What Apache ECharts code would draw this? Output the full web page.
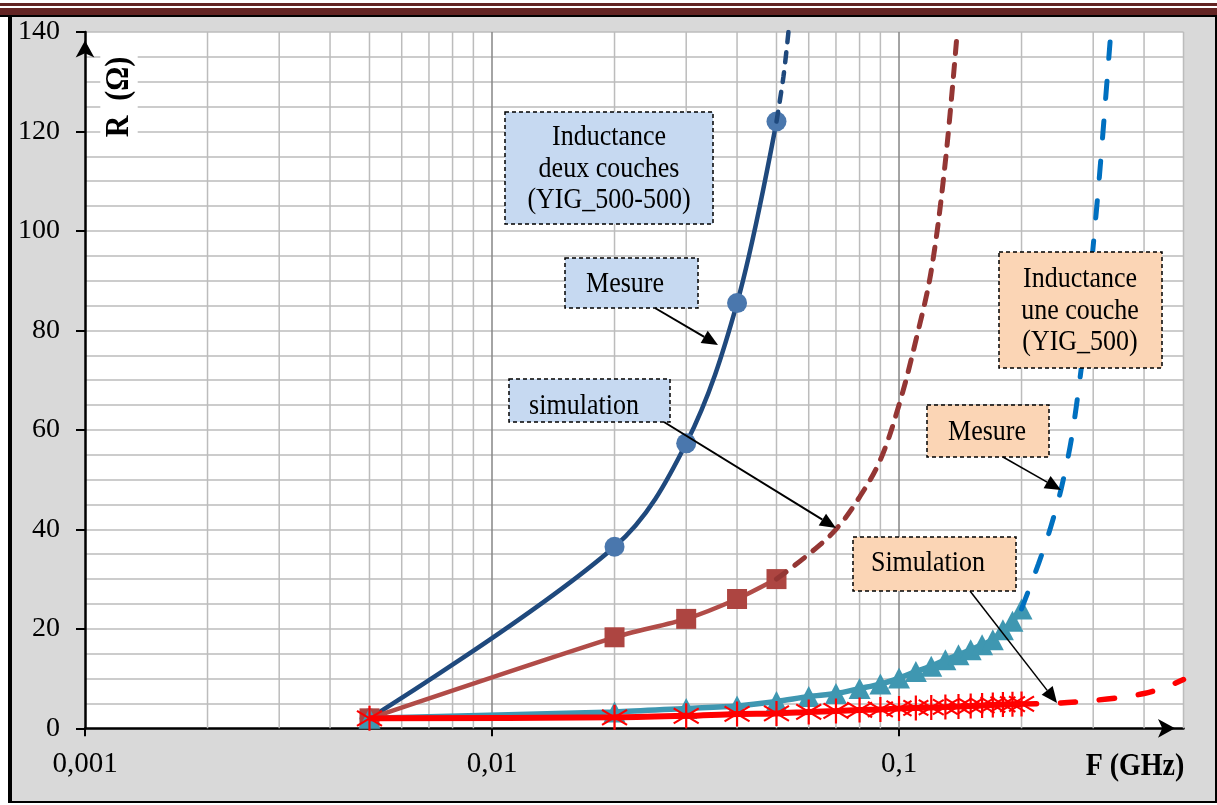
<!DOCTYPE html>
<html><head><meta charset="utf-8">
<script src="https://cdn.jsdelivr.net/npm/echarts@6/dist/echarts.min.js"></script>
<style>html,body{margin:0;padding:0;background:#fff}#c{width:1217px;height:805px}</style>
</head><body><div id="c"></div>
<script>
// ---------------- data ----------------
// Inductance deux couches (YIG_500-500)
const fDeux = [0.005, 0.02, 0.03, 0.04, 0.05];
const rMesureDeux = [2.0, 36.5, 57.3, 85.5, 122];
const fMesureDeuxExt = [0.05, 0.052, 0.0535];
const rMesureDeuxExt = [122, 131, 140];
const rSimDeux = [2.0, 18.3, 22.0, 26.0, 30.0];
const fSimDeuxExt = [0.05, 0.06, 0.07, 0.08, 0.09, 0.1, 0.11, 0.12, 0.13, 0.139];
const rSimDeuxExt = [30, 35, 40, 46.5, 54, 65, 78, 92, 114, 140];
// Inductance une couche (YIG_500)
const fUne = [0.005, 0.02, 0.03, 0.04, 0.05, 0.06, 0.07, 0.08, 0.09, 0.1, 0.11, 0.12, 0.13, 0.14, 0.15, 0.16, 0.17, 0.18, 0.19, 0.2];
const rMesureUne = [2.0, 3.3, 4.0, 4.5, 5.4, 6.4, 7.0, 8.0, 8.9, 10.1, 11.4, 12.5, 13.8, 14.8, 15.8, 16.8, 17.8, 19.8, 21.5, 24.0];
const fMesureUneExt = [0.2, 0.22, 0.235, 0.25, 0.265, 0.28, 0.29, 0.3, 0.31, 0.32, 0.33];
const rMesureUneExt = [24, 33, 40, 48, 58, 72, 84, 97, 110, 124, 138];
const rSimUne = [2.0, 2.2, 2.5, 2.9, 3.0, 3.3, 3.5, 3.7, 3.8, 4.0, 4.1, 4.2, 4.3, 4.4, 4.5, 4.6, 4.7, 4.8, 4.85, 4.9];
const fSimUneExt = [0.2, 0.25, 0.3, 0.35, 0.4, 0.45, 0.5];
const rSimUneExt = [4.9, 5.1, 5.6, 6.2, 7.0, 8.2, 9.8];
// axes
const xTickValues = [0.001, 0.01, 0.1];
const xTickLabels = ['0,001', '0,01', '0,1'];
const yTickLabels = ['0', '20', '40', '60', '80', '100', '120', '140'];
const xGridValues = [0.002,0.003,0.004,0.005,0.006,0.007,0.008,0.009,0.01,
  0.02,0.03,0.04,0.05,0.06,0.07,0.08,0.09,0.1,0.2,0.3,0.4,0.5];

// ---------------- helpers ----------------
const FONT = '"Liberation Serif","Times New Roman",serif';
const zip = (a, b) => a.map((v, i) => [v, b[i]]);
const ASTER = 'path://M10,0 L10,20 M1.5,4 L18.5,16 M1.5,16 L18.5,4';

function arrow(x1, y1, x2, y2, w, hl, hw) {
  const a = Math.atan2(y2 - y1, x2 - x1);
  const bx = x2 - hl * Math.cos(a), by = y2 - hl * Math.sin(a);
  const px = -Math.sin(a) * hw, py = Math.cos(a) * hw;
  return [
    {type: 'line', z: 100, silent: true, shape: {x1: x1, y1: y1, x2: bx, y2: by}, style: {stroke: '#000', lineWidth: w}},
    {type: 'polygon', z: 100, silent: true, shape: {points: [[x2, y2], [bx + px, by + py], [bx - px, by - py]]}, style: {fill: '#000'}}
  ];
}
function box(x, y, w, h, fill, text, tx, ty) {
  return [
    {type: 'rect', z: 100, silent: true, shape: {x: x, y: y, width: w, height: h},
      style: {fill: fill, stroke: '#000', lineWidth: 1.5, lineDash: [4, 3]}},
    {type: 'text', z: 101, silent: true, x: tx, y: ty, scaleY: 1.12,
      style: {text: text, fontFamily: FONT, fontSize: 26, fill: '#000', align: 'center', verticalAlign: 'middle', lineHeight: 28}}
  ];
}
const BLUE_BOX = '#c6d9f1', ORANGE_BOX = '#fbd5b5';

const graphics = [].concat(
  // page frame
  [
    {type: 'rect', z: 50, silent: true, shape: {x: 0, y: 0, width: 1217, height: 17}, style: {fill: '#fff'}},
    {type: 'rect', z: 50, silent: true, shape: {x: 0, y: 0, width: 8, height: 805}, style: {fill: '#fff'}},
    {type: 'rect', z: 50, silent: true, shape: {x: 0, y: 803, width: 1217, height: 2}, style: {fill: '#fff'}},
    {type: 'rect', z: 51, silent: true, shape: {x: 0, y: 3, width: 1217, height: 3}, style: {fill: '#632423'}},
    {type: 'rect', z: 51, silent: true, shape: {x: 0, y: 8, width: 1217, height: 7}, style: {fill: '#632423'}},
    {type: 'rect', z: 51, silent: true, shape: {x: 0, y: 15, width: 1217, height: 2}, style: {fill: '#000'}},
    {type: 'rect', z: 51, silent: true, shape: {x: 8, y: 15, width: 4, height: 788}, style: {fill: '#000'}},
    {type: 'rect', z: 51, silent: true, shape: {x: 8, y: 801, width: 1209, height: 2}, style: {fill: '#000'}},
    {type: 'rect', z: 51, silent: true, shape: {x: 1215, y: 15, width: 2, height: 788}, style: {fill: '#000'}},
    // axis names
    {type: 'text', z: 60, silent: true, x: 119, y: 97, rotation: Math.PI / 2, scaleY: 1.1,
      style: {text: 'R  (Ω)', fontFamily: FONT, fontSize: 30, fontWeight: 'bold', fill: '#000',
        align: 'center', verticalAlign: 'middle', backgroundColor: '#fff', padding: [2, 6]}},
    {type: 'text', z: 60, silent: true, x: 1135, y: 767, scaleY: 1.12,
      style: {text: 'F (GHz)', fontFamily: FONT, fontSize: 28, fontWeight: 'bold', fill: '#000',
        align: 'center', verticalAlign: 'middle'}}
  ],
  box(505, 112, 208, 112, BLUE_BOX, 'Inductance\ndeux couches\n(YIG_500-500)', 609, 169),
  box(565, 258, 133, 50, BLUE_BOX, 'Mesure', 625, 284),
  box(509, 379, 161, 43, BLUE_BOX, 'simulation', 584, 406),
  box(999, 252, 163, 116, ORANGE_BOX, 'Inductance\nune couche\n(YIG_500)', 1080, 311),
  box(927, 405, 122, 52, ORANGE_BOX, 'Mesure', 987, 432),
  box(853, 537, 163, 54, ORANGE_BOX, 'Simulation', 928, 563),
  arrow(655, 308, 718, 345, 2, 16, 7),
  arrow(664, 422, 836, 528, 2, 16, 7),
  arrow(1003, 457, 1061, 490, 1.5, 16, 7),
  arrow(970, 591, 1057, 703, 1.5, 16, 7)
);

const chart = echarts.init(document.getElementById('c'), null, {renderer: 'canvas'});
chart.setOption({
  animation: false,
  backgroundColor: '#d9d9d9',
  grid: {left: 85, right: 33.5, top: 32, bottom: 76.7, show: true, backgroundColor: '#fff', borderWidth: 0,
    containLabel: false, outerBoundsMode: 'none'},
  xAxis: {
    type: 'log', logBase: 10, min: 0.001, max: 0.5,
    axisLine: {show: true, onZero: false, lineStyle: {color: '#000', width: 2.5},
      symbol: ['none', 'arrow'], symbolSize: [14, 17], symbolOffset: [0, -8.5]},
    axisTick: {show: true, customValues: xTickValues, length: 8, lineStyle: {color: '#000', width: 2}},
    axisLabel: {show: true, customValues: xTickValues, margin: 22, color: '#000', fontFamily: FONT, fontSize: 29,
      formatter: function (v) {
        let best = 0;
        xTickValues.forEach((t, i) => { if (Math.abs(Math.log10(t) - Math.log10(v)) < Math.abs(Math.log10(xTickValues[best]) - Math.log10(v))) best = i; });
        return xTickLabels[best];
      }},
    splitLine: {show: false}
  },
  yAxis: {
    type: 'value', min: 0, max: 140, interval: 20,
    axisLine: {show: true, lineStyle: {color: '#000', width: 2.5},
      symbol: ['none', 'arrow'], symbolSize: [14, 17], symbolOffset: [0, -8.5]},
    axisTick: {show: true, length: 9, lineStyle: {color: '#000', width: 2}},
    axisLabel: {margin: 25, color: '#000', fontFamily: FONT, fontSize: 28,
      formatter: v => yTickLabels[Math.round(v / 20)]},
    splitLine: {show: true, lineStyle: {color: '#bcbcbc', width: 1.5}},
    minorTick: {show: false, splitNumber: 4},
    minorSplitLine: {show: true, lineStyle: {color: '#bcbcbc', width: 1.5}}
  },
  graphic: {elements: graphics},
  series: [
    {
      type: 'custom', z: 1, silent: true, clip: false,
      data: xGridValues.map(v => [v, 0]),
      renderItem: function (params, api) {
        const v = api.value(0);
        const b = api.coord([v, 0]);
        const t = api.coord([v, 140]);
        const major = Math.abs(Math.log10(v) - Math.round(Math.log10(v))) < 1e-9;
        return {type: 'line', shape: {x1: b[0], y1: b[1], x2: t[0], y2: t[1]},
          style: {stroke: major ? '#868686' : '#bcbcbc', lineWidth: 1.5}};
      }
    },
    {
      name: 'Mesure deux couches', type: 'line', z: 3, data: zip(fDeux, rMesureDeux), smooth: 0.35,
      symbol: 'circle', symbolSize: 20,
      lineStyle: {color: '#1f497d', width: 4.5}, itemStyle: {color: '#4a77ad'}
    },
    {
      name: 'Simulation deux couches', type: 'line', z: 3, data: zip(fDeux, rSimDeux), smooth: 0.25,
      symbol: 'rect', symbolSize: 20,
      lineStyle: {color: '#b14c48', width: 4.5}, itemStyle: {color: '#ad4541'}
    },
    {
      name: 'Mesure deux couches (ext)', type: 'line', z: 4, data: zip(fMesureDeuxExt, rMesureDeuxExt), smooth: 0.3,
      symbol: 'none', lineStyle: {color: '#1f497d', width: 4.5, type: [10, 10], cap: 'round'}
    },
    {
      name: 'Simulation deux couches (ext)', type: 'line', z: 4, data: zip(fSimDeuxExt, rSimDeuxExt), smooth: 0.35,
      symbol: 'none', lineStyle: {color: '#943634', width: 5, type: [12, 11], cap: 'round'}
    },
    {
      name: 'Mesure une couche', type: 'line', z: 5, data: zip(fUne, rMesureUne), smooth: 0.3,
      symbol: 'triangle', symbolSize: [22, 21], showAllSymbol: true,
      lineStyle: {color: '#3f97b1', width: 5.5}, itemStyle: {color: '#3f97b1'}
    },
    {
      name: 'Mesure une couche (ext)', type: 'line', z: 6, data: zip(fMesureUneExt, rMesureUneExt), smooth: 0.3,
      symbol: 'none', lineStyle: {color: '#0070c0', width: 5, type: [17, 23], cap: 'round'}
    },
    {
      name: 'Simulation une couche', type: 'line', z: 7, data: zip(fUne, rSimUne), smooth: 0.3,
      symbol: ASTER, symbolSize: [25, 25], showAllSymbol: true,
      lineStyle: {color: '#ff0000', width: 6},
      itemStyle: {color: '#ff0000', borderColor: '#ff0000', borderWidth: 2.2}
    },
    {
      name: 'Simulation une couche (ext)', type: 'line', z: 7, data: zip(fSimUneExt, rSimUneExt), smooth: 0.3,
      symbol: 'none', lineStyle: {color: '#ff0000', width: 5.5, type: [15, 24], cap: 'round'}
    }
  ]
});
</script></body></html>
